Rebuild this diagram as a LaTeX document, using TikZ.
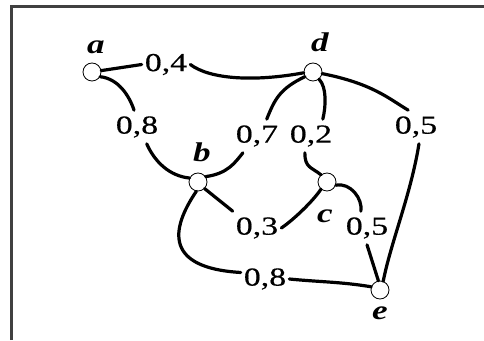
\documentclass[tikz,border=0pt]{standalone}
\usepackage{fontspec}
\usepackage{graphicx}
\setmainfont{Liberation Serif}
\newfontfamily\wfont{Liberation Serif}[FakeBold=0.4]
\newcommand\wlab[1]{\scalebox{1.3}[1]{#1}}
\begin{document}
\begin{tikzpicture}[x=1pt,y=1pt,
  vtx/.style={circle,draw,line width=0.8pt,fill=white,minimum size=18pt,inner sep=0pt},
  wt/.style={inner xsep=3pt,inner ysep=6pt,font=\fontsize{26}{30}\wfont},
  nm/.style={inner sep=0pt,font=\fontsize{27}{30}\selectfont\bfseries\itshape},
  edge/.style={line width=3.2pt,line cap=round}]
\useasboundingbox (0,0) rectangle (484,340);
\draw[line width=2.5pt,black!75] (11.5,0) -- (11.5,333.5) -- (484,333.5);
% vertices
\node[vtx] (a) at (92,268) {};
\node[vtx] (d) at (313,268) {};
\node[vtx] (b) at (198,158) {};
\node[vtx] (c) at (327,158) {};
\node[vtx] (e) at (380,50) {};
% vertex names
\node[nm] (la) at (96,293) {\wlab{a}};
\node[nm] (ld) at (320,298) {\wlab{d}};
\node[nm] (lb) at (202,188) {\wlab{b}};
\node[nm] (lc) at (325,124) {\wlab{c}};
\node[nm] (le) at (380,27) {\wlab{e}};
% weights
\node[wt] (wad) at (166,275.5) {\wlab{0,4}};
\node[wt] (wab) at (137,213) {\wlab{0,8}};
\node[wt] (wbd) at (257,204) {\wlab{0,7}};
\node[wt] (wdc) at (311,204) {\wlab{0,2}};
\node[wt] (wde) at (416,213) {\wlab{0,5}};
\node[wt] (wbc) at (257,112) {\wlab{0,3}};
\node[wt] (wce) at (367,112) {\wlab{0,5}};
\node[wt] (wbe) at (265,61) {\wlab{0,8}};
% edges
\begin{scope}[edge]
\draw (a) -- (wad.west);
\draw (wad.east) .. controls +(20,-15) and +(-49,-9) .. (d.185);
\draw (a.-30) .. controls +(18,-2) and +(-5,15) .. (wab.100);
\draw (wab.-60) .. controls +(8,-18) and +(-20,2) .. (b.155);
\draw (b.35) .. controls +(22,3) and +(-8,-10) .. (wbd.-130);
\draw (wbd.60) .. controls +(8,20) and +(-25,-12) .. (d.-150);
\draw (d.-50) .. controls +(8,-8) and +(3,12) .. (wdc.55);
\draw (wdc.-110) .. controls +(0,-15) and +(-10,8) .. (c.130);
\draw (d.-10) .. controls +(50,-10) and +(-20,12) .. (wde.115);
\draw (wde.-80) .. controls +(-8,-50) and +(8,40) .. (e.70);
\draw (b.-45) -- (wbc.north west);
\draw (wbc.east) .. controls +(12,8) and +(-8,-12) .. (c.-130);
\draw (c.-20) .. controls +(15,3) and +(2,12) .. (wce.110);
\draw (wce.south) -- (e.100);
\draw (b.-100) .. controls (170,110) and (165,72) .. (wbe.165);
\draw (wbe.east) .. controls +(30,-3) and +(-30,5) .. (e.160);
\end{scope}
\end{tikzpicture}
\end{document}
